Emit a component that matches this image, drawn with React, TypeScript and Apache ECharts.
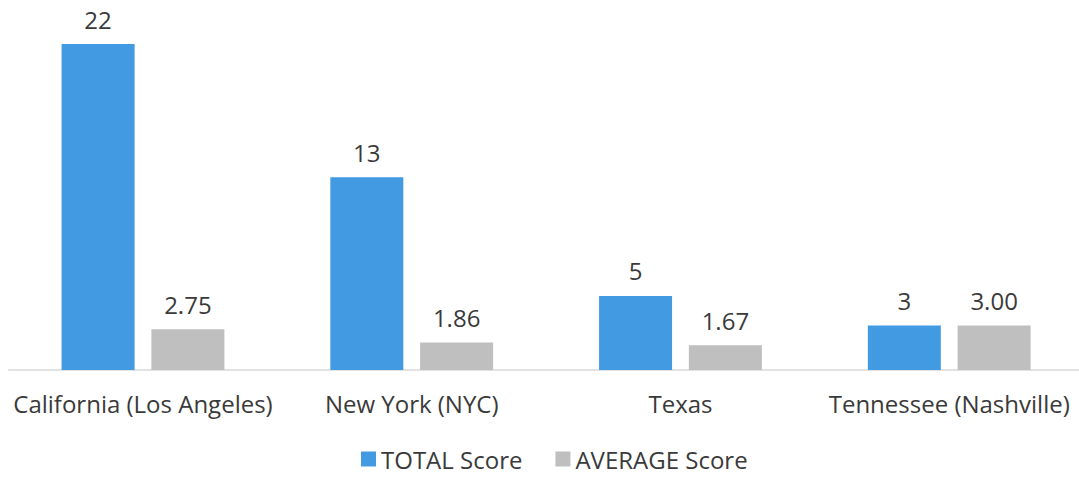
import React, { useEffect, useRef } from "react";
import * as echarts from "echarts";

const categories = ["California (Los Angeles)", "New York (NYC)", "Texas", "Tennessee (Nashville)"];
const totalScore = [22, 13, 5, 3];
const averageScore = [2.75, 1.86, 1.67, 3.0];
const seriesNames = ["TOTAL Score", "AVERAGE Score"];

const FONT = "'Open Sans', 'Noto Sans', sans-serif";
const TEXT_COLOR = "#3a3a3a";

export default function App() {
  const ref = useRef<HTMLDivElement>(null);
  useEffect(() => {
    if (!ref.current) return;
    const chart = echarts.init(ref.current, null, { renderer: "svg" });
    chart.setOption({
      animation: false,
      backgroundColor: "#ffffff",
      textStyle: { fontFamily: FONT },
      legend: {
        data: seriesNames,
        bottom: 3,
        left: 356,
        icon: "rect",
        itemWidth: 15,
        itemHeight: 15,
        itemGap: 33,
        textStyle: { fontFamily: FONT, fontSize: 24, color: TEXT_COLOR },
      },
      grid: {
        left: 8.6,
        width: 1075,
        top: 44,
        bottom: 109,
        outerBoundsMode: "none",
        containLabel: false,
      },
      xAxis: {
        type: "category",
        data: categories,
        axisLine: { show: true, lineStyle: { color: "#d9d9d9", width: 1.5 } },
        axisTick: { show: false },
        axisLabel: {
          interval: 0,
          margin: 21,
          fontFamily: FONT,
          fontSize: 24,
          color: TEXT_COLOR,
        },
      },
      yAxis: {
        type: "value",
        min: 0,
        max: 22,
        show: false,
        splitLine: { show: false },
      },
      series: [
        {
          name: seriesNames[0],
          type: "bar",
          data: totalScore,
          barWidth: 73,
          barGap: "23%",
          itemStyle: { color: "#419ae2" },
          label: {
            show: true,
            position: "top",
            distance: 13,
            fontFamily: FONT,
            fontSize: 24,
            color: TEXT_COLOR,
          },
        },
        {
          name: seriesNames[1],
          type: "bar",
          data: averageScore,
          barWidth: 73,
          barGap: "23%",
          itemStyle: { color: "#bfbfbf" },
          label: {
            show: true,
            position: "top",
            distance: 13,
            fontFamily: FONT,
            fontSize: 24,
            color: TEXT_COLOR,
            formatter: (p: any) => Number(p.value).toFixed(2),
          },
        },
      ],
    });
    return () => chart.dispose();
  }, []);
  return (
    <div
      ref={ref}
      style={{ position: "fixed", left: 0, top: 0, width: 1079, height: 479 }}
    />
  );
}
